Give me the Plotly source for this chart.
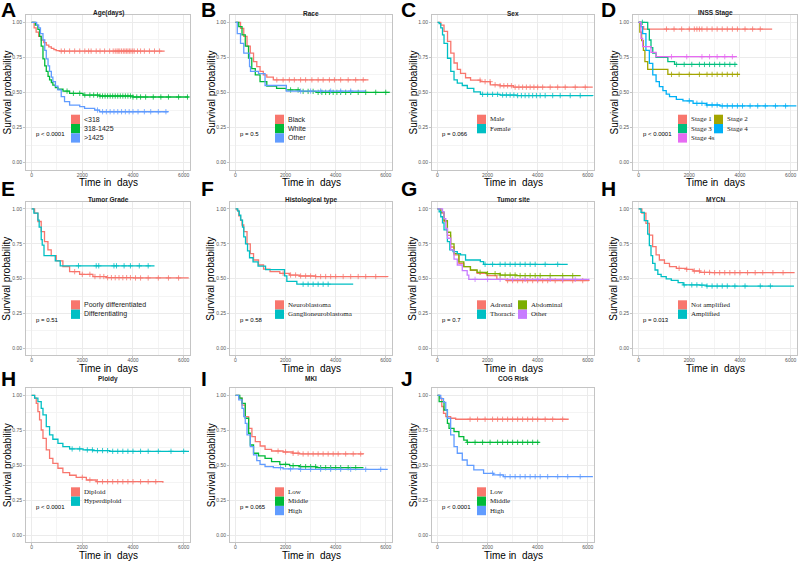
import numpy as np
import plotly.graph_objects as go

# ---------------- axis ticks ----------------
x_ticks = [0, 2000, 4000, 6000]
x_tick_labels = ["0", "2000", "4000", "6000"]
y_ticks = [0, 0.25, 0.5, 0.75, 1.0]
y_tick_labels = ["0.00", "0.25", "0.50", "0.75", "1.00"]

# ---------------- A: Age(days) ----------------
age_lt318_t = [0, 100, 180, 280, 380, 480, 580, 680, 780, 880, 970, 1100, 5250]
age_lt318_s = [1.0, 0.96, 0.93, 0.90, 0.874, 0.855, 0.838, 0.825, 0.815, 0.805, 0.798, 0.795, 0.795]
age_lt318_c = [1170, 1300, 1500, 1700, 1900, 2100, 2250, 2350, 2550, 2700, 2880, 3080, 3220, 3300, 3370,
               3420, 3480, 3550, 3620, 3680, 3740, 3800, 3860, 3920, 3990, 4050, 4180, 4300, 4450, 4650, 4850, 5050]
age_mid_t = [0, 150, 250, 315, 380, 450, 520, 580, 650, 710, 780, 840, 940, 1040, 1240, 1500, 2030, 2680, 4000, 6200]
age_mid_s = [1.0, 0.98, 0.95, 0.90, 0.83, 0.74, 0.69, 0.65, 0.615, 0.59, 0.57, 0.553, 0.535, 0.523, 0.51, 0.494,
             0.482, 0.475, 0.468, 0.468]
age_mid_c = [1400, 1650, 1900, 2100, 2300, 2450, 2600, 2700, 2800, 2900, 3000, 3100, 3200, 3300, 3400, 3500, 3600,
             3700, 3800, 3900, 4000, 4150, 4300, 4500, 4800, 5100, 5400, 5800, 6150]
age_gt1425_t = [0, 200, 280, 350, 450, 520, 580, 650, 710, 780, 840, 940, 1040, 1170, 1300, 1500, 1900, 2090, 2490,
                2680, 5380]
age_gt1425_s = [1.0, 0.98, 0.96, 0.92, 0.874, 0.80, 0.74, 0.69, 0.65, 0.61, 0.577, 0.545, 0.518, 0.47, 0.435, 0.41,
                0.40, 0.387, 0.375, 0.363, 0.359]
age_gt1425_c = [2600, 2800, 2950, 3100, 3250, 3400, 3550, 3700, 3850, 4000, 4200, 4450, 4700, 5000, 5300]

# ---------------- B: Race ----------------
race_black_t = [0, 200, 330, 460, 590, 720, 850, 980, 1110, 1250, 1510, 5310]
race_black_s = [1.0, 0.957, 0.90, 0.83, 0.78, 0.72, 0.685, 0.65, 0.625, 0.61, 0.59, 0.59]
race_black_c = [1650, 1900, 2150, 2350, 2600, 2800, 3050, 3300, 3500, 3750, 3950, 4200, 4500, 4800, 5100]
race_white_t = [0, 130, 260, 390, 520, 650, 790, 980, 1250, 1640, 2030, 2560, 3220, 6150]
race_white_s = [1.0, 0.97, 0.91, 0.83, 0.745, 0.67, 0.625, 0.577, 0.546, 0.53, 0.518, 0.508, 0.501, 0.50]
race_white_c = [2200, 2500, 2700, 2900, 3100, 3300, 3450, 3600, 3750, 3900, 4050, 4200, 4400, 4600, 4900, 5200,
                5600, 6000]
race_other_t = [0, 70, 200, 330, 560, 600, 920, 1180, 2030, 5200]
race_other_s = [1.0, 0.92, 0.85, 0.78, 0.685, 0.65, 0.635, 0.55, 0.51, 0.51]
race_other_c = [2600, 3000, 3400, 3800, 4200, 4600]

# ---------------- C: Sex ----------------
sex_male_t = [0, 130, 260, 400, 530, 660, 790, 920, 1120, 1320, 1715, 2110, 2500, 3030, 6200]
sex_male_s = [1.0, 0.98, 0.935, 0.864, 0.78, 0.71, 0.665, 0.636, 0.605, 0.588, 0.577, 0.555, 0.548, 0.538, 0.538]
sex_male_c = [1700, 1900, 2100, 2300, 2500, 2650, 2800, 2950, 3100, 3250, 3400, 3550, 3700, 3850, 4000, 4200, 4500,
              4800, 5100, 5500, 5900]
sex_female_t = [0, 65, 130, 200, 260, 400, 530, 660, 790, 990, 1190, 1450, 1715, 2500, 3170, 6200]
sex_female_s = [1.0, 0.99, 0.96, 0.91, 0.85, 0.744, 0.65, 0.59, 0.567, 0.55, 0.53, 0.505, 0.487, 0.482, 0.478, 0.475]
sex_female_c = [1800, 2000, 2200, 2400, 2600, 2750, 2900, 3050, 3200, 3350, 3500, 3650, 3800, 3950, 4100, 4300, 4600,
                4900, 5300, 5700]

# ---------------- D: INSS Stage ----------------
inss_s1_t = [0, 100, 200, 5270]
inss_s1_s = [1.0, 0.97, 0.952, 0.952]
inss_s1_c = [1100, 1400, 1700, 2000, 2200, 2300, 2400, 2500, 2700, 2900, 3100, 3300, 3500, 3700, 3900, 4200, 4500, 4800]
inss_s2_t = [0, 50, 120, 190, 250, 360, 1155, 4000]
inss_s2_s = [1.0, 0.93, 0.87, 0.80, 0.72, 0.665, 0.629, 0.629]
inss_s2_c = [1300, 1600, 2000, 2400, 2700, 2900, 3100, 3300, 3500, 3700, 3900]
inss_s3_t = [0, 360, 425, 490, 560, 690, 1155, 1420, 3880]
inss_s3_s = [1.0, 0.95, 0.874, 0.82, 0.78, 0.75, 0.72, 0.70, 0.70]
inss_s3_c = [150, 1500, 1800, 2100, 2400, 2600, 2800, 3000, 3200, 3400, 3600, 3800]
inss_s4_t = [0, 80, 160, 290, 425, 560, 690, 820, 960, 1090, 1220, 1490, 1750, 2150, 2680, 3210, 6200]
inss_s4_s = [1.0, 0.97, 0.92, 0.80, 0.708, 0.625, 0.577, 0.542, 0.513, 0.489, 0.47, 0.451, 0.44, 0.423, 0.411,
             0.404, 0.40]
inss_s4_c = [2000, 2300, 2500, 2700, 2900, 3100, 3300, 3500, 3700, 3900, 4100, 4400, 4700, 5000, 5400, 5800]
inss_s4s_t = [0, 95, 160, 490, 690, 3880]
inss_s4s_s = [1.0, 0.886, 0.827, 0.786, 0.755, 0.755]
inss_s4s_c = [1300, 1900, 2500, 2800, 3100, 3400, 3700]

# ---------------- E: Tumor Grade ----------------
grade_poor_t = [0, 120, 250, 380, 510, 645, 775, 975, 1235, 1500, 1895, 2420, 2950, 4000, 6200]
grade_poor_s = [1.0, 0.97, 0.91, 0.837, 0.766, 0.706, 0.665, 0.627, 0.586, 0.55, 0.531, 0.515, 0.507, 0.505, 0.505]
grade_poor_c = [1700, 2000, 2300, 2500, 2700, 2850, 3000, 3150, 3300, 3450, 3600, 3750, 3900, 4100, 4300, 4600, 5000,
                5400, 5800]
grade_diff_t = [0, 90, 250, 300, 380, 420, 490, 935, 1130, 4850]
grade_diff_s = [1.0, 0.97, 0.92, 0.87, 0.78, 0.74, 0.665, 0.627, 0.592, 0.592]
grade_diff_c = [1850, 2550, 2650, 3250, 3350, 3650, 3900, 4250, 4600]

# ---------------- F: Histological type ----------------
hist_nb_t = [0, 65, 130, 200, 260, 330, 460, 590, 720, 920, 1120, 1380, 1770, 2160, 2550, 3200, 6080]
hist_nb_s = [1.0, 0.99, 0.95, 0.92, 0.885, 0.837, 0.75, 0.68, 0.634, 0.598, 0.569, 0.55, 0.538, 0.526, 0.519,
             0.515, 0.512]
hist_nb_c = [1900, 2200, 2400, 2600, 2800, 3000, 3200, 3400, 3600, 3800, 4000, 4300, 4600, 4900, 5200, 5600]
hist_gnb_t = [0, 90, 150, 210, 280, 330, 400, 480, 560, 700, 900, 1200, 1960, 2050, 2450, 4700]
hist_gnb_s = [1.0, 0.985, 0.955, 0.92, 0.87, 0.80, 0.75, 0.70, 0.65, 0.62, 0.59, 0.565, 0.52, 0.48, 0.46, 0.46]
hist_gnb_c = [2700, 2900, 3100, 3300, 3500, 3700]

# ---------------- G: Tumor site ----------------
site_adrenal_t = [0, 130, 260, 395, 525, 660, 855, 1050, 1315, 1580, 1975, 2370, 2760, 6050]
site_adrenal_s = [1.0, 0.97, 0.91, 0.81, 0.727, 0.67, 0.61, 0.586, 0.56, 0.538, 0.522, 0.495, 0.486, 0.483]
site_adrenal_c = [2800, 3000, 3200, 3400, 3600, 3800, 4000, 4200, 4400, 4700, 5000, 5400, 5800]
site_abdom_t = [0, 130, 260, 395, 525, 660, 855, 1050, 1315, 1580, 1975, 2500, 3160, 5720]
site_abdom_s = [1.0, 0.975, 0.916, 0.833, 0.75, 0.68, 0.62, 0.586, 0.562, 0.545, 0.536, 0.526, 0.522, 0.522]
site_abdom_c = [1700, 2000, 2300, 2500, 2700, 2900, 3100, 3300, 3500, 3700, 3900, 4100, 4500, 5000, 5400]
site_thor_t = [0, 65, 130, 200, 260, 395, 490, 620, 790, 920, 1120, 1710, 1840, 5200]
site_thor_s = [1.0, 0.98, 0.944, 0.90, 0.85, 0.766, 0.706, 0.694, 0.68, 0.67, 0.634, 0.622, 0.603, 0.603]
site_thor_c = [1900, 2200, 2500, 2700, 2900, 3100, 3300, 3500, 3700, 3900, 4300, 4800]
site_other_t = [0, 200, 260, 330, 395, 525, 660, 790, 990, 1185, 1250, 6050]
site_other_s = [1.0, 0.98, 0.93, 0.86, 0.79, 0.706, 0.64, 0.598, 0.557, 0.526, 0.495, 0.492]
site_other_c = [1500, 2000, 2500, 3000, 3500, 4000, 4500, 5000, 5500]

# ---------------- H: MYCN ----------------
mycn_no_t = [0, 130, 290, 425, 555, 690, 820, 1020, 1220, 1490, 1890, 2150, 2420, 2820, 6130]
mycn_no_s = [1.0, 0.97, 0.897, 0.813, 0.73, 0.67, 0.634, 0.61, 0.586, 0.574, 0.567, 0.555, 0.545, 0.543, 0.538]
mycn_no_c = [1600, 1900, 2200, 2400, 2600, 2800, 3000, 3200, 3400, 3600, 3800, 4000, 4300, 4600, 4900, 5300, 5700]
mycn_amp_t = [0, 95, 225, 360, 425, 490, 555, 650, 760, 890, 1090, 1290, 1560, 1760, 2420, 2680, 6130]
mycn_amp_s = [1.0, 0.976, 0.916, 0.82, 0.737, 0.665, 0.61, 0.562, 0.531, 0.514, 0.498, 0.488, 0.471, 0.455, 0.453,
              0.447, 0.447]
mycn_amp_c = [1800, 2100, 2300, 2500, 2700, 2900, 3100, 3300, 3500, 3800, 4200, 4800, 5200]

# ---------------- H: Ploidy ----------------
ploidy_di_t = [0, 120, 185, 250, 315, 380, 450, 580, 710, 840, 1040, 1235, 1500, 1760, 2160, 2550, 5180]
ploidy_di_s = [1.0, 0.98, 0.943, 0.883, 0.824, 0.752, 0.693, 0.61, 0.55, 0.514, 0.479, 0.448, 0.429, 0.414, 0.395,
               0.383, 0.376]
ploidy_di_c = [2000, 2300, 2600, 2800, 3000, 3200, 3400, 3600, 3800, 4000, 4300, 4600, 4900]
ploidy_hy_t = [0, 120, 250, 380, 450, 580, 710, 840, 1040, 1235, 1500, 2030, 2420, 3080, 6210]
ploidy_hy_s = [1.0, 0.98, 0.955, 0.907, 0.86, 0.776, 0.717, 0.686, 0.657, 0.633, 0.617, 0.61, 0.605, 0.60, 0.60]
ploidy_hy_c = [1600, 1900, 2200, 2400, 2600, 2800, 3000, 3200, 3400, 3600, 3800, 4000, 4300, 4600, 5000, 5500, 6000]

# ---------------- I: MKI ----------------
mki_low_t = [0, 130, 260, 390, 525, 655, 790, 985, 1180, 1440, 1900, 2290, 2550, 5110]
mki_low_s = [1.0, 0.98, 0.93, 0.848, 0.764, 0.705, 0.669, 0.638, 0.614, 0.602, 0.595, 0.586, 0.581, 0.579]
mki_low_c = [1700, 2000, 2300, 2500, 2700, 2900, 3100, 3300, 3500, 3700, 3900, 4100, 4400, 4700, 5000]
mki_mid_t = [0, 170, 260, 390, 525, 590, 720, 920, 1180, 1440, 1770, 2160, 2550, 3210, 5110]
mki_mid_s = [1.0, 0.98, 0.943, 0.836, 0.729, 0.645, 0.586, 0.567, 0.55, 0.526, 0.507, 0.498, 0.49, 0.483, 0.483]
mki_mid_c = [2000, 2300, 2600, 2800, 3000, 3200, 3400, 3600, 3800, 4000, 4200, 4500, 4800]
mki_high_t = [0, 130, 260, 330, 390, 460, 590, 720, 850, 980, 1180, 1510, 1900, 2550, 6080]
mki_high_s = [1.0, 0.967, 0.907, 0.848, 0.80, 0.717, 0.633, 0.574, 0.533, 0.507, 0.49, 0.483, 0.474, 0.471, 0.471]
mki_high_c = [1800, 2200, 2600, 3000, 3400, 3800, 4200, 4600, 5200, 5800]

# ---------------- J: COG Risk ----------------
cog_low_t = [0, 90, 170, 240, 330, 525, 725, 5240]
cog_low_s = [1.0, 0.98, 0.92, 0.871, 0.848, 0.836, 0.829, 0.829]
cog_low_c = [1300, 1600, 1900, 2200, 2400, 2600, 2800, 3000, 3200, 3400, 3600, 3800, 4000, 4300, 4600, 5000]
cog_mid_t = [0, 65, 260, 395, 460, 660, 855, 1050, 1180, 4080]
cog_mid_s = [1.0, 0.955, 0.895, 0.80, 0.764, 0.74, 0.705, 0.68, 0.664, 0.664]
cog_mid_c = [1200, 1500, 1800, 2100, 2400, 2600, 2800, 3000, 3200, 3400, 3600, 3800, 4000]
cog_high_t = [0, 130, 240, 330, 395, 525, 660, 790, 990, 1185, 1450, 1840, 2240, 2630, 6180]
cog_high_s = [1.0, 0.976, 0.95, 0.895, 0.836, 0.717, 0.633, 0.586, 0.538, 0.50, 0.467, 0.443, 0.431, 0.419, 0.414]
cog_high_c = [2200, 2500, 2700, 2900, 3100, 3300, 3500, 3700, 3900, 4100, 4400, 4800, 5200, 5700]

# ---------------- colours ----------------
C2 = ["#F8766D", "#00BFC4"]
C3 = ["#F8766D", "#00BA38", "#619CFF"]
C4 = ["#F8766D", "#7CAE00", "#00BFC4", "#C77CFF"]
C5 = ["#F8766D", "#A3A500", "#00BF7D", "#00B0F6", "#E76BF3"]

SANS = "Liberation Sans, Arial, sans-serif"
SERIF = "Liberation Serif, Times New Roman, serif"

panels = [
    dict(letter="A", title="Age(days)", col=0, row=0, pval="p < 0.0001", font=SANS, ncol=1, gap=0,
         curves=[("<318", age_lt318_t, age_lt318_s, age_lt318_c, C3[0]),
                 ("318-1425", age_mid_t, age_mid_s, age_mid_c, C3[1]),
                 (">1425", age_gt1425_t, age_gt1425_s, age_gt1425_c, C3[2])]),
    dict(letter="B", title="Race", col=1, row=0, pval="p = 0.5", font=SANS, ncol=1, gap=0,
         curves=[("Black", race_black_t, race_black_s, race_black_c, C3[0]),
                 ("White", race_white_t, race_white_s, race_white_c, C3[1]),
                 ("Other", race_other_t, race_other_s, race_other_c, C3[2])]),
    dict(letter="C", title="Sex", col=2, row=0, pval="p = 0.066", font=SERIF, ncol=1, gap=0,
         curves=[("Male", sex_male_t, sex_male_s, sex_male_c, C2[0]),
                 ("Female", sex_female_t, sex_female_s, sex_female_c, C2[1])]),
    dict(letter="D", title="INSS Stage", col=3, row=0, pval="p < 0.0001", font=SERIF, ncol=2, gap=36,
         curves=[("Stage 1", inss_s1_t, inss_s1_s, inss_s1_c, C5[0]),
                 ("Stage 2", inss_s2_t, inss_s2_s, inss_s2_c, C5[1]),
                 ("Stage 3", inss_s3_t, inss_s3_s, inss_s3_c, C5[2]),
                 ("Stage 4", inss_s4_t, inss_s4_s, inss_s4_c, C5[3]),
                 ("Stage 4s", inss_s4s_t, inss_s4s_s, inss_s4s_c, C5[4])]),
    dict(letter="E", title="Tumor Grade", col=0, row=1, pval="p = 0.51", font=SANS, ncol=1, gap=0,
         curves=[("Poorly differentiated", grade_poor_t, grade_poor_s, grade_poor_c, C2[0]),
                 ("Differentiating", grade_diff_t, grade_diff_s, grade_diff_c, C2[1])]),
    dict(letter="F", title="Histological type", col=1, row=1, pval="p = 0.58", font=SERIF, ncol=1, gap=0,
         curves=[("Neuroblastoma", hist_nb_t, hist_nb_s, hist_nb_c, C2[0]),
                 ("Ganglioneuroblastoma", hist_gnb_t, hist_gnb_s, hist_gnb_c, C2[1])]),
    dict(letter="G", title="Tumor site", col=2, row=1, pval="p = 0.7", font=SERIF, ncol=2, gap=41,
         curves=[("Adrenal", site_adrenal_t, site_adrenal_s, site_adrenal_c, C4[0]),
                 ("Abdominal", site_abdom_t, site_abdom_s, site_abdom_c, C4[1]),
                 ("Thoracic", site_thor_t, site_thor_s, site_thor_c, C4[2]),
                 ("Other", site_other_t, site_other_s, site_other_c, C4[3])]),
    dict(letter="H", title="MYCN", col=3, row=1, pval="p = 0.013", font=SERIF, ncol=1, gap=0,
         curves=[("Not amplified", mycn_no_t, mycn_no_s, mycn_no_c, C2[0]),
                 ("Amplified", mycn_amp_t, mycn_amp_s, mycn_amp_c, C2[1])]),
    dict(letter="H", title="Ploidy", col=0, row=2, pval="p < 0.0001", font=SERIF, ncol=1, gap=0,
         curves=[("Diploid", ploidy_di_t, ploidy_di_s, ploidy_di_c, C2[0]),
                 ("Hyperdiploid", ploidy_hy_t, ploidy_hy_s, ploidy_hy_c, C2[1])]),
    dict(letter="I", title="MKI", col=1, row=2, pval="p = 0.065", font=SERIF, ncol=1, gap=0,
         curves=[("Low", mki_low_t, mki_low_s, mki_low_c, C3[0]),
                 ("Middle", mki_mid_t, mki_mid_s, mki_mid_c, C3[1]),
                 ("High", mki_high_t, mki_high_s, mki_high_c, C3[2])]),
    dict(letter="J", title="COG Risk", col=2, row=2, pval="p < 0.0001", font=SERIF, ncol=1, gap=0,
         curves=[("Low", cog_low_t, cog_low_s, cog_low_c, C3[0]),
                 ("Middle", cog_mid_t, cog_mid_s, cog_mid_c, C3[1]),
                 ("High", cog_high_t, cog_high_s, cog_high_c, C3[2])]),
]

# ---------------- layout geometry (pixels) ----------------
W, H = 800, 561
col_x = [(26, 190), (230, 392), (432, 594), (633, 797)]
row_y = [(15.3, 169.7), (202, 355.3), (388.3, 542.3)]
title_y = [13.5, 200, 378.5]
letter_y = [10, 188, 378]


def px(x):
    return x / W


def py(y):
    return 1 - y / H


fig = go.Figure()
layout = dict(width=W, height=H, margin=dict(l=0, r=0, t=0, b=0), autosize=False,
              paper_bgcolor="white", plot_bgcolor="white", showlegend=False)
annotations = []
shapes = []

for i, p in enumerate(panels):
    sfx = "" if i == 0 else str(i + 1)
    L, R = col_x[p["col"]]
    T, B = row_y[p["row"]]
    layout["xaxis" + sfx] = dict(
        domain=[px(L), px(R)], range=[-220, 6250], anchor="y" + sfx,
        tickvals=x_ticks, ticktext=x_tick_labels, tickfont=dict(size=5, color="#555555", family=SANS),
        showgrid=True, gridcolor="#EBEBEB", gridwidth=0.7, zeroline=False,
        showline=True, mirror=True, linecolor="#C4C4C4", linewidth=0.8,
        ticks="outside", ticklen=2, tickcolor="#C4C4C4", tickwidth=0.6, ticklabelstandoff=-2,
        minor=dict(tickvals=[1000, 3000, 5000], showgrid=True, gridcolor="#F4F4F4", gridwidth=0.5, ticks=""),
    )
    layout["yaxis" + sfx] = dict(
        domain=[py(B), py(T)], range=[-0.05, 1.05], anchor="x" + sfx,
        tickvals=y_ticks, ticktext=y_tick_labels, tickfont=dict(size=5, color="#555555", family=SANS),
        showgrid=True, gridcolor="#EBEBEB", gridwidth=0.7, zeroline=False,
        showline=True, mirror=True, linecolor="#C4C4C4", linewidth=0.8,
        ticks="outside", ticklen=2, tickcolor="#C4C4C4", tickwidth=0.6,
        minor=dict(tickvals=[0.125, 0.375, 0.625, 0.875], showgrid=True, gridcolor="#F4F4F4", gridwidth=0.5, ticks=""),
    )

    for name, t, s, c, col in p["curves"]:
        fig.add_trace(go.Scatter(x=t, y=s, mode="lines", line=dict(shape="hv", color=col, width=1.3),
                                 xaxis="x" + sfx, yaxis="y" + sfx, hoverinfo="skip", showlegend=False))
        t_arr = np.asarray(t, dtype=float)
        s_arr = np.asarray(s, dtype=float)
        idx = np.searchsorted(t_arr, np.asarray(c, dtype=float), side="right") - 1
        fig.add_trace(go.Scatter(x=c, y=s_arr[idx], mode="markers",
                                 marker=dict(symbol="cross-thin", size=3.8, color=col,
                                             line=dict(width=0.8, color=col)),
                                 xaxis="x" + sfx, yaxis="y" + sfx, hoverinfo="skip", showlegend=False))

    # panel letter
    annotations.append(dict(text="<b>%s</b>" % p["letter"], x=px(p["col"] * 200 - 1), y=py(letter_y[p["row"]]),
                            xref="paper", yref="paper", xanchor="left", yanchor="middle", showarrow=False,
                            font=dict(family=SANS, size=21, color="black")))
    # panel title
    annotations.append(dict(text="<b>%s</b>" % p["title"], x=px((L + R) / 2), y=py(title_y[p["row"]]),
                            xref="paper", yref="paper", xanchor="center", yanchor="middle", showarrow=False,
                            font=dict(family=SANS, size=6.5, color="#222222")))
    # axis titles
    annotations.append(dict(text="Survival probability", x=px(L - 19), y=py((T + B) / 2), textangle=-90,
                            xref="paper", yref="paper", xanchor="center", yanchor="middle", showarrow=False,
                            font=dict(family=SANS, size=10, color="black")))
    annotations.append(dict(text="Time in\u00a0 days", x=px((L + R) / 2), y=py(B + 13),
                            xref="paper", yref="paper", xanchor="center", yanchor="middle", showarrow=False,
                            font=dict(family=SANS, size=10, color="black")))
    # p-value
    annotations.append(dict(text=p["pval"], x=px(L + 8), y=py(B - 35.5),
                            xref="paper", yref="paper", xanchor="left", yanchor="middle", showarrow=False,
                            font=dict(family=SANS, size=6, color="black")))
    # legend
    sq_left = L + 45
    top0 = B - 55
    pitch = 9.3
    for k, (name, t, s, c, col) in enumerate(p["curves"]):
        r = k // p["ncol"]
        cc = k % p["ncol"]
        x0 = sq_left + cc * p["gap"]
        y0 = top0 + r * pitch
        shapes.append(dict(type="rect", xref="paper", yref="paper", x0=px(x0), x1=px(x0 + 9),
                           y0=py(y0 + pitch), y1=py(y0), fillcolor=col, line=dict(width=0), layer="above"))
        annotations.append(dict(text=name, x=px(x0 + 11), y=py(y0 + pitch / 2),
                                xref="paper", yref="paper", xanchor="left", yanchor="middle", showarrow=False,
                                font=dict(family=p["font"], size=7, color="#1a1a1a")))

layout["annotations"] = annotations
layout["shapes"] = shapes
fig.update_layout(**layout)
fig.write_html("out.html", config={"displayModeBar": False},
               post_script="document.body.style.margin='0';document.body.style.overflow='hidden';")
